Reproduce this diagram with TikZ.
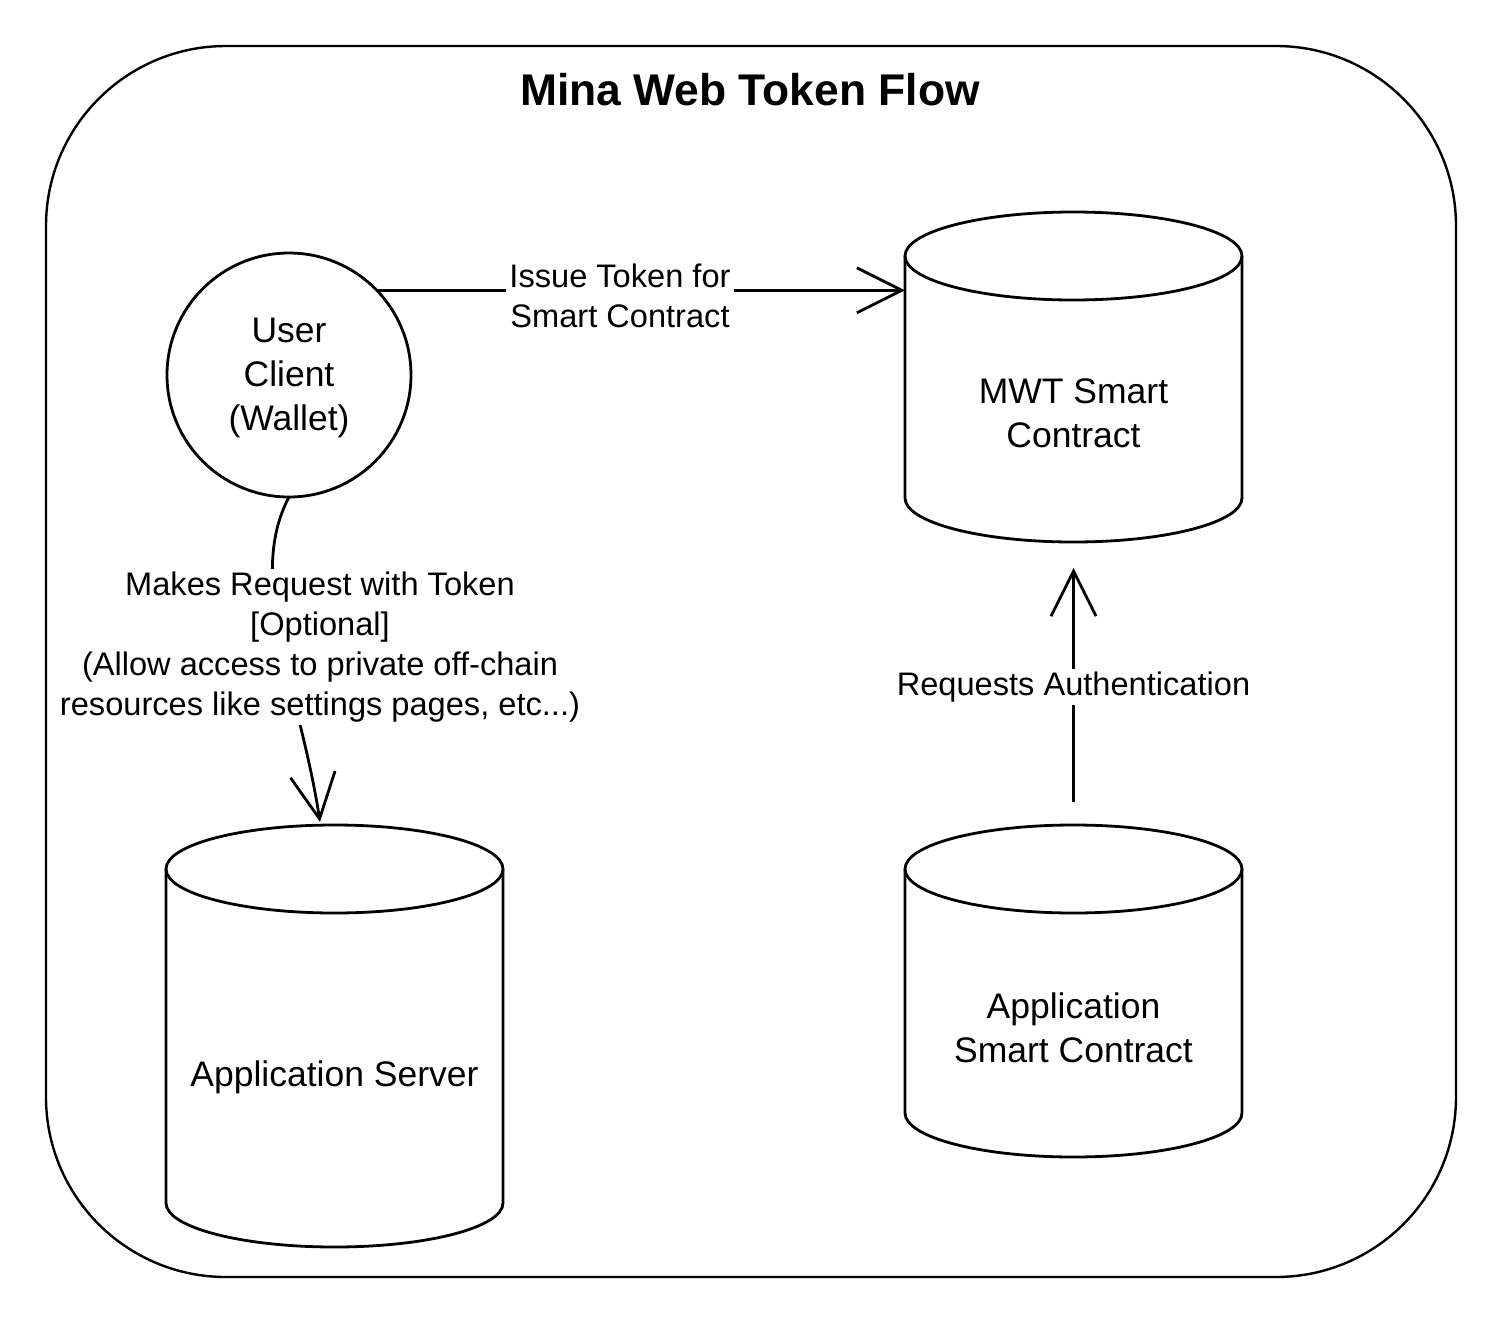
\documentclass[tikz,border=0pt]{standalone}
\usepackage{fontspec}
\setmainfont{Liberation Sans}
\usetikzlibrary{arrows.meta}
\newcommand\drawcyl[4]{% left, right, top-ellipse centre y, bottom-ellipse centre y
  \draw[shapeline] ({(#1+#2)/2},#3) ellipse [x radius={(#2-#1)/2}, y radius=44];
  \draw[shapeline] (#1,#3) -- (#1,#4)
    arc[start angle=180, end angle=0, x radius={(#2-#1)/2}, y radius=44] -- (#2,#3);
}
\begin{document}
\begin{tikzpicture}[x=0.5pt,y=-0.5pt,
  shapeline/.style={line width=1.4pt},
  framebox/.style={draw, line width=1.2pt, rounded corners=90pt, inner sep=0pt, outer sep=0pt},
  cylbox/.style={draw=none, inner sep=0pt, outer sep=0pt},
  usercircle/.style={circle, draw, line width=1.4pt, minimum size=122pt, inner sep=0pt, outer sep=0pt},
  nodetext/.style={inner sep=0pt, align=center, font=\fontsize{17.75pt}{22pt}\selectfont},
  titletext/.style={inner sep=0pt, font=\fontsize{22.2pt}{26pt}\selectfont\bfseries},
  lbl/.style={fill=white, inner sep=1.5pt, align=center, font=\fontsize{16.3pt}{20pt}\selectfont},
  conn/.style={line width=1.4pt, -{Straight Barb[length=22.5pt,width=22.5pt]}}
]
\useasboundingbox (0,0) rectangle (1506,1323);

% container
\node[framebox, minimum width=705pt, minimum height=615.5pt] (frame) at (751,661.5) {};
\node[titletext] (title) at (750,90) {Mina Web Token Flow};

% user client
\node[usercircle] (user) at (289,375) {};
\node[nodetext] (usertext) at (289,378) {User\\Client\\(Wallet)};

% MWT smart contract cylinder
\node[cylbox, minimum width=168.5pt, minimum height=165pt] (mwt) at (1073.5,377) {};
\drawcyl{905}{1242}{256}{498}
\node[nodetext] (mwttext) at (1073.5,413) {MWT Smart\\Contract};

% application server cylinder
\node[cylbox, minimum width=168.5pt, minimum height=211pt] (as) at (334.5,1036) {};
\drawcyl{166}{503}{869}{1203}
\node[nodetext] (astext) at (334.5,1077) {Application Server};

% application smart contract cylinder
\node[cylbox, minimum width=168.5pt, minimum height=166pt] (asc) at (1073.5,991) {};
\drawcyl{905}{1242}{869}{1113}
\node[nodetext] (asctext) at (1073.5,1028) {Application\\Smart Contract};

% connectors
\draw[conn] (user.44) -- (mwt.west |- user.44);
\node[lbl] (issue) at (620,296) {Issue Token for\\Smart Contract};

\coordinate (asin) at ([xshift=-7.25pt,yshift=1.5pt]as.north);
\draw[conn] (user.south) .. controls (245,580) and (300,690) .. (asin);
\node[lbl] (req) at (320,647) {Makes Request with Token\\{}[Optional]\\(Allow access to private off-chain\\resources like settings pages, etc...)};

\draw[conn, shorten <=11.5pt, shorten >=13pt] (asc.north) -- (mwt.south);
\node[lbl] (auth) at (1073.5,687) {Requests Authentication};
\end{tikzpicture}
\end{document}
